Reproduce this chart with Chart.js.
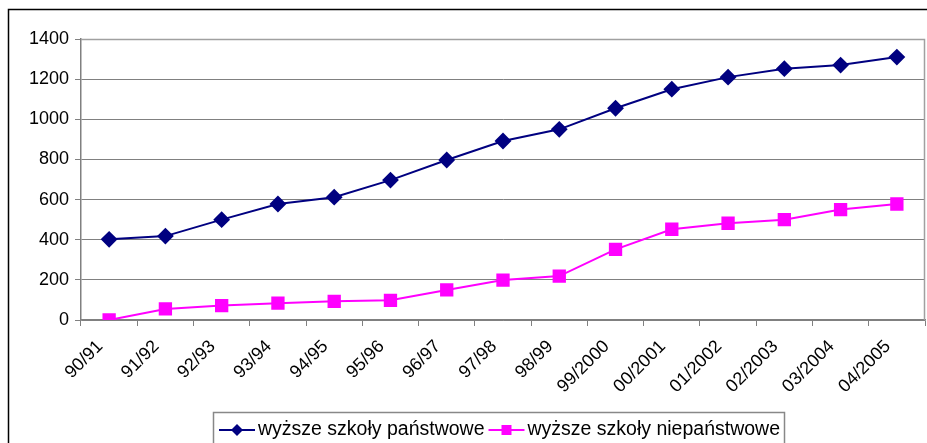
<!DOCTYPE html>
<html lang="pl">
<head>
    <meta charset="UTF-8">
    <title>Szkoły wyższe</title>
    <script src="https://cdn.jsdelivr.net/npm/chart.js"></script>
    <style>
        html, body { margin: 0; padding: 0; background: #fff; }
        #wrap { width: 927px; height: 443px; }
    </style>
</head>
<body>
    <div id="wrap"><canvas id="chart"></canvas></div>

    <script>
        // data
        const years = ['90/91', '91/92', '92/93', '93/94', '94/95', '95/96', '96/97', '97/98',
                       '98/99', '99/2000', '00/2001', '01/2002', '02/2003', '03/2004', '04/2005'];
        const publicSchools = [402, 418, 500, 578, 612, 697, 797, 892, 950, 1055, 1150, 1210, 1252, 1270, 1310];
        const privateSchools = [0, 55, 72, 84, 93, 98, 150, 199, 219, 352, 452, 482, 500, 550, 578];
        const seriesNames = ['wyższe szkoły państwowe', 'wyższe szkoły niepaństwowe'];
        const yTicks = [0, 200, 400, 600, 800, 1000, 1200, 1400];

        const FONT = 'Liberation Sans, Arial, sans-serif';

        function drawMarker(g, style, x, y, color) {
            g.fillStyle = color;
            g.beginPath();
            if (style === 'diamond') {
                g.moveTo(x, y - 6); g.lineTo(x + 6, y); g.lineTo(x, y + 6); g.lineTo(x - 6, y);
            } else {
                g.rect(x - 5, y - 5, 10, 10);
            }
            g.fill();
        }

        // frame around the plot, outer border and the boxed legend
        const frame = {
            id: 'frame',
            beforeDatasetsDraw(chart) {
                const { ctx, chartArea: a } = chart;
                ctx.save();
                ctx.strokeStyle = '#a0a0a0';
                ctx.lineWidth = 1.5;
                ctx.beginPath();
                ctx.moveTo(a.left, a.top + 0.5);
                ctx.lineTo(a.right - 0.5, a.top + 0.5);
                ctx.lineTo(a.right - 0.5, a.bottom);
                ctx.stroke();
                ctx.restore();
            },
            afterDraw(chart) {
                const ctx = chart.ctx;
                ctx.save();
                ctx.strokeStyle = '#000';
                ctx.lineWidth = 1.5;
                ctx.strokeRect(8.5, 9.5, 930, 450);

                // legend
                const left = 213, top = 412, cy = 430;
                ctx.font = '19.5px ' + FONT;
                ctx.textBaseline = 'middle';
                ctx.textAlign = 'left';
                const styles = ['diamond', 'square'];
                const colors = chart.data.datasets.map(d => d.borderColor);
                let x = left + 6;
                chart.data.datasets.forEach((ds, i) => {
                    ctx.strokeStyle = colors[i];
                    ctx.lineWidth = 2;
                    ctx.beginPath(); ctx.moveTo(x, cy); ctx.lineTo(x + 36, cy); ctx.stroke();
                    drawMarker(ctx, styles[i], x + 18, cy, colors[i]);
                    x += 39;
                    ctx.fillStyle = '#000';
                    ctx.fillText(ds.label, x, cy);
                    x += ctx.measureText(ds.label).width + 4;
                });
                ctx.strokeStyle = '#888';
                ctx.lineWidth = 1.5;
                ctx.strokeRect(left + 0.5, top + 0.5, Math.round(x - left), 40);
                ctx.restore();
            }
        };

        const ctx = document.getElementById('chart').getContext('2d');
        const chart = new Chart(ctx, {
            type: 'line',
            data: {
                labels: years,
                datasets: [{
                    label: seriesNames[0],
                    data: publicSchools,
                    borderColor: '#000080',
                    backgroundColor: '#000080',
                    borderWidth: 2,
                    pointStyle: 'rectRot',
                    pointRadius: 7,
                    pointHoverRadius: 7,
                    tension: 0
                }, {
                    label: seriesNames[1],
                    data: privateSchools,
                    borderColor: '#ff00ff',
                    backgroundColor: '#ff00ff',
                    borderWidth: 2,
                    pointStyle: 'rect',
                    pointRadius: 8,
                    pointHoverRadius: 8,
                    tension: 0
                }]
            },
            options: {
                responsive: true,
                maintainAspectRatio: false,
                animation: false,
                layout: { autoPadding: false, padding: { left: 8, top: 39, right: 2, bottom: 31 } },
                plugins: {
                    tooltip: { enabled: false },
                    legend: { display: false }
                },
                scales: {
                    x: {
                        offset: true,
                        grid: {
                            offset: true,
                            drawOnChartArea: false,
                            color: '#808080',
                            tickLength: 6
                        },
                        border: { color: '#808080', width: 1.5 },
                        ticks: {
                            autoSkip: false,
                            minRotation: 45,
                            maxRotation: 45,
                            color: '#000',
                            padding: 10,
                            labelOffset: -9,
                            font: { family: FONT, size: 18 }
                        },
                        afterFit(scale) {
                            scale.height = 92;
                            scale.paddingLeft = 0;
                            scale.paddingRight = 0;
                        }
                    },
                    y: {
                        min: 0,
                        max: 1400,
                        afterBuildTicks(scale) {
                            scale.ticks = yTicks.map(v => ({ value: v }));
                        },
                        grid: {
                            color: '#808080',
                            lineWidth: 1,
                            tickLength: 6
                        },
                        border: { color: '#808080', width: 1.5 },
                        ticks: {
                            color: '#000',
                            padding: 6,
                            font: { family: FONT, size: 18 },
                            callback: v => String(v)
                        },
                        afterFit(scale) { scale.width = 73; }
                    }
                }
            },
            plugins: [frame]
        });
    </script>
</body>
</html>
